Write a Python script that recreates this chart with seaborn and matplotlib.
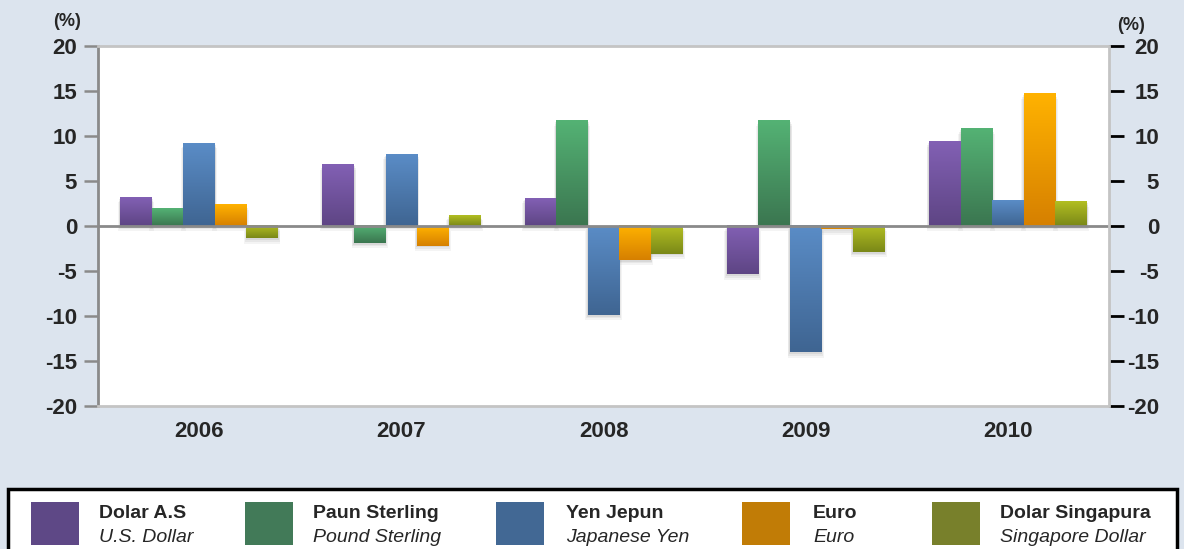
import numpy as np
import pandas as pd
import matplotlib
matplotlib.use("Agg")
import matplotlib.pyplot as plt
import matplotlib.colors as mcolors
from matplotlib.patches import Rectangle
import seaborn as sns

years = ["2006", "2007", "2008", "2009", "2010"]
usd = [3.2, 6.8, 3.1, -5.4, 9.4]
gbp = [2.0, -1.9, 11.7, 11.7, 10.8]
jpy = [9.2, 8.0, -9.9, -14.1, 2.8]
eur = [2.4, -2.2, -3.8, -0.4, 14.7]
sgd = [-1.4, 1.2, -3.1, -2.9, 2.7]

names_ms = ["Dolar A.S", "Paun Sterling", "Yen Jepun", "Euro", "Dolar Singapura"]
names_en = ["U.S. Dollar", "Pound Sterling", "Japanese Yen", "Euro", "Singapore Dollar"]
legend_colors = ["#5e4886", "#427a58", "#426894", "#c17c06", "#78802b"]
top_colors = ["#8260b4", "#54b274", "#5a8cc6", "#ffb200", "#b2be22"]
bot_colors = ["#5e4584", "#3b7650", "#3f6592", "#d68000", "#7a8818"]

yticks = [-20, -15, -10, -5, 0, 5, 10, 15, 20]
ytick_labels = ["-20", "-15", "-10", "-5", "0", "5", "10", "15", "20"]

df = pd.DataFrame({"year": years * 5,
                   "series": np.repeat(names_ms, 5),
                   "value": usd + gbp + jpy + eur + sgd})

sns.set_style("white")
plt.rcParams["font.family"] = ["Liberation Sans", "DejaVu Sans"]
bg = "#dce4ee"

fig = plt.figure(figsize=(11.84, 5.49), dpi=100, facecolor=bg)
ax = fig.add_axes([98 / 1184, 1 - 405.5 / 549, (1109 - 98) / 1184, (405.5 - 46) / 549])
ax.set_facecolor("white")

sns.barplot(data=df, x="year", y="value", hue="series", hue_order=names_ms,
            palette=legend_colors, legend=False, ax=ax, width=0.78)

# gradient fill over each bar, with a soft grey shadow behind
for i, cont in enumerate(ax.containers):
    cmap = mcolors.LinearSegmentedColormap.from_list("g", [bot_colors[i], top_colors[i]])
    for p in cont.patches:
        x0, w = p.get_x(), p.get_width()
        y0, h = p.get_y(), p.get_height()
        lo, hi = min(y0, y0 + h), max(y0, y0 + h)
        for k, a in enumerate([0.18, 0.14, 0.10]):
            d = 0.004 * (k + 1)
            ax.add_patch(Rectangle((x0 - d, lo - 0.2 * (k + 1)), w + 2 * d, hi - lo,
                                   color="#9a9a9a", alpha=a, lw=0, zorder=1))
        grad = np.linspace(0, 1, 64).reshape(-1, 1)
        ax.imshow(grad, cmap=cmap, origin="lower", aspect="auto",
                  extent=(x0, x0 + w, lo, hi), zorder=3)
        p.set_visible(False)

ax.set_xlim(-0.5, 4.5)
ax.set_ylim(-20, 20)
ax.axhline(0, color="#8a8a8a", lw=2, zorder=4)

ax.set_yticks(yticks)
ax.set_yticklabels(ytick_labels, fontsize=16, fontweight="bold")
ax.tick_params(axis="y", length=10, width=1.8, color="#8a8a8a", pad=5)
ax.tick_params(axis="x", length=0, pad=11, labelsize=16)
for lab in ax.get_xticklabels():
    lab.set_fontweight("bold")
ax.set_xlabel("")
ax.set_ylabel("")

for s in ["top", "bottom"]:
    ax.spines[s].set_color("#c4c4c4")
    ax.spines[s].set_linewidth(2)
ax.spines["left"].set_color("#8a8a8a")
ax.spines["left"].set_linewidth(2)
ax.spines["right"].set_visible(False)

ax2 = ax.twinx()
ax2.set_ylim(-20, 20)
ax2.set_yticks(yticks)
ax2.set_yticklabels(ytick_labels, fontsize=16, fontweight="bold", ha="right")
ax2.tick_params(axis="y", length=11, width=2, color="black", pad=25)
for s in ["top", "bottom", "left"]:
    ax2.spines[s].set_visible(False)
ax2.spines["right"].set_color("#c4c4c4")
ax2.spines["right"].set_linewidth(2)

fig.text(67 / 1184, 1 - 21 / 549, "(%)", fontsize=13, fontweight="bold", ha="center", va="center")
fig.text(1131 / 1184, 1 - 26 / 549, "(%)", fontsize=13, fontweight="bold", ha="center", va="center")

# legend box
W, H = 1184, 549
fig.patches.append(Rectangle((8 / W, -0.02), (1177 - 8) / W, 1 - 489 / H + 0.02,
                             transform=fig.transFigure, facecolor="white",
                             edgecolor="black", lw=2.5))
patch_x = [31, 245, 496, 742, 932]
text_x = [99, 313, 566, 813, 1000]
for i in range(5):
    fig.patches.append(Rectangle((patch_x[i] / W, 1 - 545 / H), 48 / W, 43 / H,
                                 transform=fig.transFigure, facecolor=legend_colors[i], lw=0))
    fig.text(text_x[i] / W, 1 - 514 / H, names_ms[i], fontsize=14, fontweight="bold", va="center")
    fig.text(text_x[i] / W, 1 - 538 / H, names_en[i], fontsize=14, style="italic", va="center")

fig.savefig("out.png", dpi=100, facecolor=bg)
